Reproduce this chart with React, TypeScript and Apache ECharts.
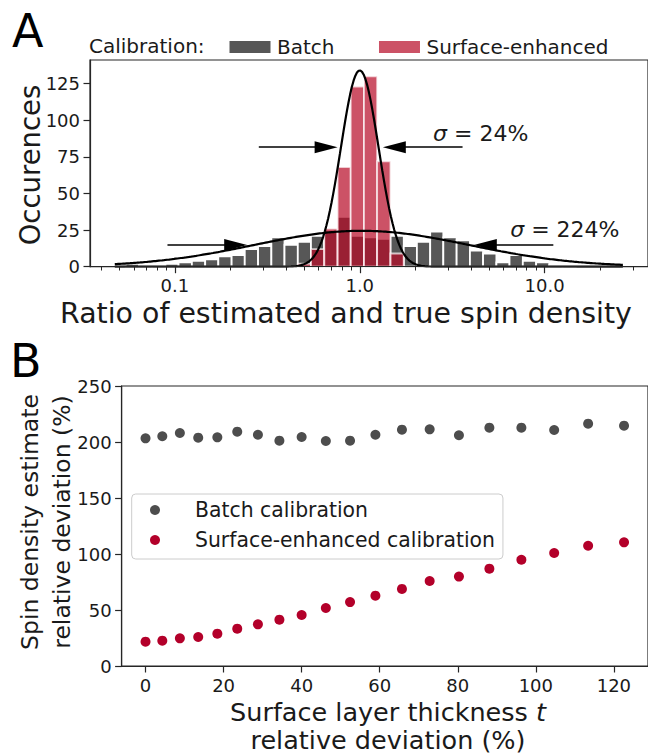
import React, { useEffect, useRef } from 'react';
import * as echarts from 'echarts';

const FONT = 'DejaVu Sans';
const INK = '#1a1a1a';

// ---------- Panel A data ----------
// lower/upper bin edges in log10(ratio)
const BIN_EDGES_LOG = [
  -1.266, -1.194, -1.123, -1.051, -0.98, -0.908, -0.836, -0.765, -0.693, -0.622,
  -0.55, -0.478, -0.407, -0.335, -0.264, -0.192, -0.12, -0.049, 0.023, 0.094,
  0.166, 0.238, 0.309, 0.381, 0.452, 0.524, 0.596, 0.667, 0.739, 0.81,
  0.882, 0.954, 1.025, 1.097, 1.168, 1.24,
];
const BATCH_COUNTS = [
  2, 1, 1, 2, 3, 4, 5, 7, 8, 12, 14, 20, 15, 17, 21, 25, 34, 21, 20, 19,
  21, 14, 17, 24, 20, 18, 11, 9, 3, 8, 4, 3, 1, 1, 0,
];
const SURFACE_COUNTS = [
  0, 0, 0, 0, 0, 0, 0, 0, 0, 0, 0, 0, 0, 2, 12, 26, 68, 123, 130, 72,
  9, 0, 0, 0, 0, 0, 0, 0, 0, 0, 0, 0, 0, 0, 0,
];
const HIST_NAMES = ['Batch', 'Surface-enhanced'];

// Gaussian fits (in log10 space): peak, centre, width
const FIT_PEAK = [24.5, 134];
const FIT_MU = [0.01, 0.0];
const FIT_SIGMA = [0.58, 0.102];
const FIT_RANGE = [-1.325, 1.423];

const X_MAJOR_LOG = [-1, 0, 1];
const X_MAJOR_LABELS = ['0.1', '1.0', '10.0'];
const X_MINOR_VALUES = [
  0.04, 0.05, 0.06, 0.07, 0.08, 0.09, 0.2, 0.3, 0.4, 0.5, 0.6, 0.7, 0.8, 0.9,
  2, 3, 4, 5, 6, 7, 8, 9, 20, 30,
];
const Y_TICKS_A = [0, 25, 50, 75, 100, 125];

// arrows: [tail x (log10), head x (log10), y]
const ARROWS = [
  [-0.546, -0.182, 81.6],
  [0.556, 0.187, 81.6],
  [-1.04, -0.671, 14.8],
  [1.047, 0.679, 14.8],
];
const SIGMA_TEXTS = ['24%', '224%'];
const SIGMA_POS = [
  [0.394, 91],
  [0.811, 25.7],
];

// ---------- Panel B data ----------
const THICKNESS = [
  0, 4.3, 8.8, 13.5, 18.4, 23.5, 28.8, 34.3, 40.0, 46.2, 52.4, 58.9, 65.7, 72.8,
  80.3, 88.1, 96.3, 104.7, 113.4, 122.6,
];
const BATCH_DEV = [
  203.3, 205.1, 208.0, 203.9, 204.2, 209.2, 206.5, 201.2, 204.5, 200.9, 201.2,
  206.5, 211.0, 211.3, 206.0, 212.8, 212.8, 210.7, 216.4, 214.6,
];
const SURFACE_DEV = [
  21.7, 22.6, 24.7, 25.9, 28.9, 33.3, 37.2, 41.4, 45.5, 51.8, 57.1, 62.8, 68.8,
  75.9, 79.8, 86.9, 94.9, 100.9, 107.4, 110.4,
];
const SCATTER_NAMES = ['Batch calibration', 'Surface-enhanced calibration'];
const X_TICKS_B = [0, 20, 40, 60, 80, 100, 120];

const GRAY = '#575757';
const RED = '#b70825';
const RED_ALPHA = 0.7;
const DOT_GRAY = '#4d4d4d';
const DOT_RED = '#b3002a';

function fitCurve(k: number): number[][] {
  const pts: number[][] = [];
  const n = 300;
  for (let i = 0; i <= n; i++) {
    const x = FIT_RANGE[0] + ((FIT_RANGE[1] - FIT_RANGE[0]) * i) / n;
    const z = (x - FIT_MU[k]) / FIT_SIGMA[k];
    pts.push([x, FIT_PEAK[k] * Math.exp(-0.5 * z * z)]);
  }
  return pts;
}

function histData(counts: number[]) {
  return counts.map((c, i) => [BIN_EDGES_LOG[i], BIN_EDGES_LOG[i + 1], c]);
}

function makeRender(fill: string, opacity: number) {
  return (params: any, api: any) => {
    const lo = api.value(0);
    const hi = api.value(1);
    const c = api.value(2);
    if (!c) return null;
    const p0 = api.coord([lo, c]);
    const p1 = api.coord([hi, 0]);
    return {
      type: 'rect',
      shape: { x: p0[0], y: p0[1], width: p1[0] - p0[0], height: p1[1] - p0[1] },
      style: { fill, stroke: '#ffffff', lineWidth: 1.8, opacity },
    };
  };
}

const tickText = { color: INK, fontFamily: FONT, fontSize: 18 };

export default function App() {
  const ref = useRef<HTMLDivElement>(null);

  useEffect(() => {
    if (!ref.current) return;
    const chart = echarts.init(ref.current, undefined, { renderer: 'svg' });
    const xMin = -1.459;
    const xMax = 1.559;

    const option: any = {
      animation: false,
      backgroundColor: '#ffffff',
      textStyle: { fontFamily: FONT },
      grid: [
        {
          left: 90, top: 60, width: 562, height: 206.7,
          show: true, borderColor: '#262626', borderWidth: 1.2, backgroundColor: 'transparent',
        },
        {
          left: 121.6, top: 386, width: 530, height: 280,
          show: true, borderColor: '#262626', borderWidth: 1.2, backgroundColor: 'transparent',
        },
      ],
      xAxis: [
        {
          type: 'value', gridIndex: 0, position: 'bottom', min: xMin, max: xMax, z: 5,
          axisLine: { show: true, onZero: false, lineStyle: { color: '#262626', width: 1.2 } },
          axisTick: { show: true, customValues: X_MAJOR_LOG, length: 6.5, lineStyle: { color: '#262626', width: 1.2 } },
          axisLabel: {
            ...tickText, margin: 10, customValues: X_MAJOR_LOG,
            formatter: (v: number) => X_MAJOR_LABELS[X_MAJOR_LOG.indexOf(Math.round(v))] ?? '',
          },
          splitLine: { show: false },
        },
        {
          type: 'value', gridIndex: 0, position: 'bottom', min: xMin, max: xMax, z: 5,
          axisLine: { show: false },
          axisTick: {
            show: true, customValues: X_MINOR_VALUES.map((v) => Math.log10(v)), length: 3.8,
            lineStyle: { color: '#262626', width: 1 },
          },
          axisLabel: { show: false },
          splitLine: { show: false },
        },
        {
          type: 'value', gridIndex: 1, position: 'bottom', min: -6.13, max: 128.74, z: 5,
          axisLine: { show: true, onZero: false, lineStyle: { color: '#262626', width: 1.2 } },
          axisTick: { show: true, customValues: X_TICKS_B, length: 6.5, lineStyle: { color: '#262626', width: 1.2 } },
          axisLabel: { ...tickText, margin: 10, customValues: X_TICKS_B },
          splitLine: { show: false },
        },
      ],
      yAxis: [
        {
          type: 'value', gridIndex: 0, min: 0, max: 141.1, z: 5,
          axisLine: { show: true, onZero: false, lineStyle: { color: '#262626', width: 1.2 } },
          axisTick: { show: true, customValues: Y_TICKS_A, length: 6.5, lineStyle: { color: '#262626', width: 1.2 } },
          axisLabel: { ...tickText, margin: 10, customValues: Y_TICKS_A },
          splitLine: { show: false },
        },
        {
          type: 'value', gridIndex: 1, min: 0, max: 250, interval: 50, z: 5,
          axisLine: { show: true, onZero: false, lineStyle: { color: '#262626', width: 1.2 } },
          axisTick: { show: true, length: 6.5, lineStyle: { color: '#262626', width: 1.2 } },
          axisLabel: { ...tickText, margin: 10 },
          splitLine: { show: false },
        },
      ],
      legend: [
        {
          left: 229.5, top: 37, orient: 'horizontal', padding: 0,
          itemWidth: 41, itemHeight: 12, itemGap: 44.5, icon: 'rect',
          textStyle: { color: INK, fontFamily: FONT, fontSize: 20, lineHeight: 20, padding: [0, 0, 0, 1.5] },
          data: [
            { name: HIST_NAMES[0], itemStyle: { color: GRAY } },
            { name: HIST_NAMES[1], itemStyle: { color: 'rgba(183,8,37,0.7)' } },
          ],
          selectedMode: false,
        },
        {
          left: 131.7, top: 494, orient: 'vertical', padding: [4, 8, 7, 18.3],
          itemWidth: 20, itemHeight: 10, itemGap: 6, icon: 'circle',
          backgroundColor: 'rgba(255,255,255,0.8)', borderColor: '#cccccc', borderWidth: 1, borderRadius: 4,
          textStyle: { color: INK, fontFamily: FONT, fontSize: 20.4, lineHeight: 24, padding: [0, 0, 0, 25] },
          data: [
            { name: SCATTER_NAMES[0], itemStyle: { color: DOT_GRAY } },
            { name: SCATTER_NAMES[1], itemStyle: { color: DOT_RED } },
          ],
          selectedMode: false,
        },
      ],
      series: [
        {
          name: HIST_NAMES[0], type: 'custom', xAxisIndex: 0, yAxisIndex: 0,
          itemStyle: { color: GRAY },
          encode: { x: [0, 1], y: 2 },
          data: histData(BATCH_COUNTS),
          renderItem: makeRender(GRAY, 1),
          z: 2,
        },
        {
          name: HIST_NAMES[1], type: 'custom', xAxisIndex: 0, yAxisIndex: 0,
          itemStyle: { color: 'rgba(183,8,37,0.7)' },
          encode: { x: [0, 1], y: 2 },
          data: histData(SURFACE_COUNTS),
          renderItem: makeRender(RED, RED_ALPHA),
          z: 2,
        },
        {
          name: 'fitBatch', type: 'line', xAxisIndex: 0, yAxisIndex: 0,
          data: fitCurve(0), showSymbol: false, symbol: 'none', z: 3,
          lineStyle: { color: '#000000', width: 2.2 },
          markLine: {
            silent: true, symbol: ['none', 'triangle'], symbolSize: [12, 23],
            lineStyle: { color: '#000000', width: 1.5, type: 'solid' },
            itemStyle: { color: '#000000' },
            label: { show: false },
            data: ARROWS.map((a) => [
              { coord: [a[0], a[2]] },
              { coord: [a[1], a[2]] },
            ]),
          },
        },
        {
          name: 'fitSurface', type: 'line', xAxisIndex: 0, yAxisIndex: 0,
          data: fitCurve(1), showSymbol: false, symbol: 'none', z: 3,
          lineStyle: { color: '#000000', width: 2.2 },
          markPoint: {
            silent: true, symbol: 'circle', symbolSize: 1,
            itemStyle: { color: 'rgba(0,0,0,0)' },
            data: SIGMA_TEXTS.map((t, i) => ({
              coord: SIGMA_POS[i],
              label: {
                show: true, position: 'right', distance: 0,
                formatter: `{s|σ}{n| = ${t}}`,
                rich: {
                  s: { fontFamily: FONT, fontSize: 22, fontStyle: 'italic', color: INK },
                  n: { fontFamily: FONT, fontSize: 22, color: INK },
                },
              },
            })),
          },
        },
        {
          name: SCATTER_NAMES[0], type: 'scatter', xAxisIndex: 2, yAxisIndex: 1,
          symbol: 'circle', symbolSize: 10, itemStyle: { color: DOT_GRAY, opacity: 1 },
          data: THICKNESS.map((t, i) => [t, BATCH_DEV[i]]),
        },
        {
          name: SCATTER_NAMES[1], type: 'scatter', xAxisIndex: 2, yAxisIndex: 1,
          symbol: 'circle', symbolSize: 10, itemStyle: { color: DOT_RED, opacity: 1 },
          data: THICKNESS.map((t, i) => [t, SURFACE_DEV[i]]),
        },
      ],
      graphic: [
        { type: 'text', left: 12, top: 8, style: { text: 'A', fontFamily: FONT, fontSize: 46, fill: '#000' } },
        { type: 'text', left: 10, top: 338, style: { text: 'B', fontFamily: FONT, fontSize: 46, fill: '#000' } },
        {
          type: 'text', x: 89, y: 46,
          style: { text: 'Calibration:', fontFamily: FONT, fontSize: 20, fill: INK, align: 'left', verticalAlign: 'middle' },
        },
        {
          type: 'text', x: 346, y: 313,
          style: { text: 'Ratio of estimated and true spin density', fontFamily: FONT, fontSize: 28.4, fill: INK, align: 'center', verticalAlign: 'middle' },
        },
        {
          type: 'text', x: 30, y: 165, rotation: Math.PI / 2,
          style: { text: 'Occurences', fontFamily: FONT, fontSize: 27.5, fill: INK, align: 'center', verticalAlign: 'middle' },
        },
        {
          type: 'text', x: 30, y: 522, rotation: Math.PI / 2,
          style: { text: 'Spin density estimate', fontFamily: FONT, fontSize: 23.5, fill: INK, align: 'center', verticalAlign: 'middle' },
        },
        {
          type: 'text', x: 62, y: 522, rotation: Math.PI / 2,
          style: { text: 'relative deviation (%)', fontFamily: FONT, fontSize: 23.5, fill: INK, align: 'center', verticalAlign: 'middle' },
        },
        {
          type: 'text', x: 388, y: 712,
          style: {
            text: '{n|Surface layer thickness }{i|t}', align: 'center', verticalAlign: 'middle',
            rich: {
              n: { fontFamily: FONT, fontSize: 25.5, fill: INK, color: INK },
              i: { fontFamily: FONT, fontSize: 25.5, fontStyle: 'italic', fill: INK, color: INK },
            },
          },
        },
        {
          type: 'text', x: 388, y: 740,
          style: { text: 'relative deviation (%)', fontFamily: FONT, fontSize: 25.5, fill: INK, align: 'center', verticalAlign: 'middle' },
        },
      ],
    };

    chart.setOption(option);
    return () => chart.dispose();
  }, []);

  return (
    <div
      ref={ref}
      style={{ position: 'fixed', left: 0, top: 0, width: 648, height: 753, background: '#fff' }}
    />
  );
}
